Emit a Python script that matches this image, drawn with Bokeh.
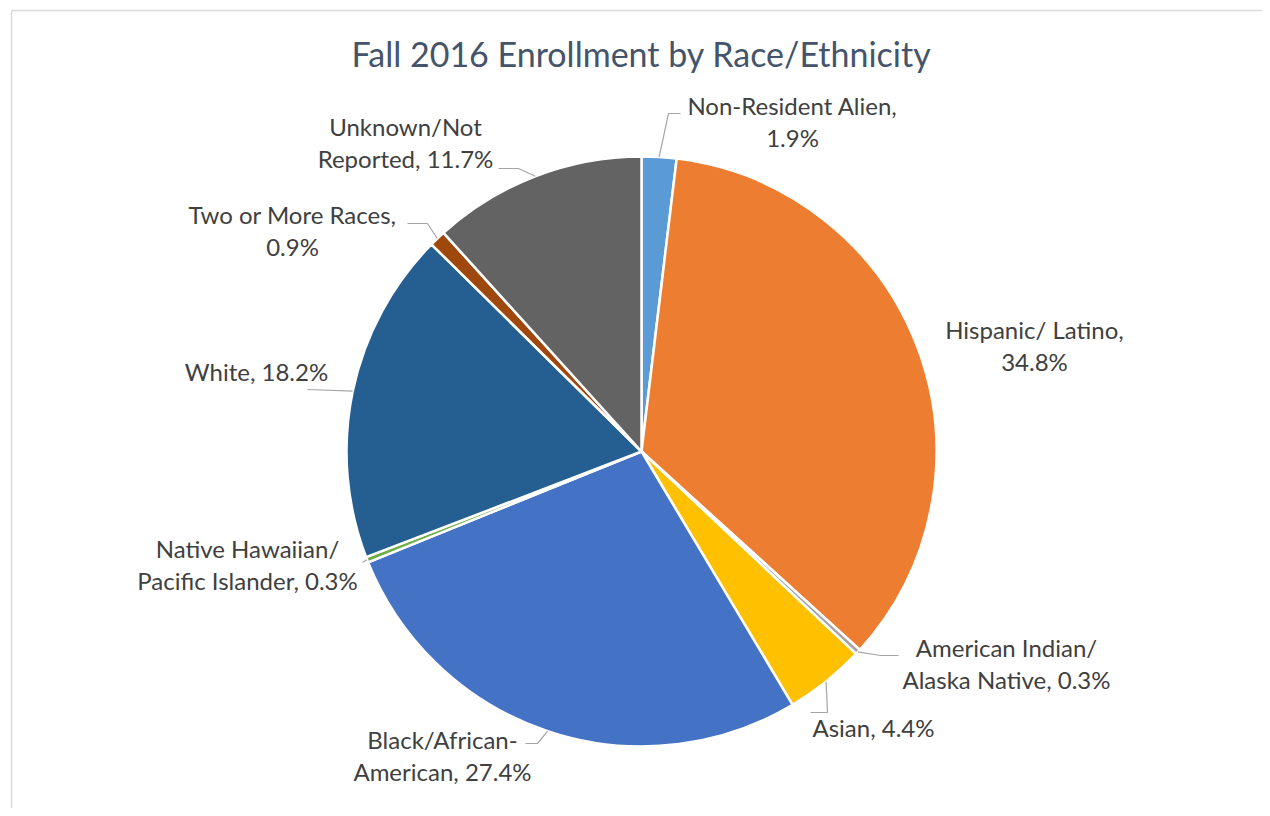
import math
from bokeh.plotting import figure
from bokeh.models import Range1d, ColumnDataSource
from bokeh.core.properties import value
from bokeh.embed import file_html
from bokeh.resources import INLINE

# ---------------- data ----------------
title_text = "Fall 2016 Enrollment by Race/Ethnicity"
categories = [
    "Non-Resident Alien",
    "Hispanic/ Latino",
    "American Indian/ Alaska Native",
    "Asian",
    "Black/African-American",
    "Native Hawaiian/ Pacific Islander",
    "White",
    "Two or More Races",
    "Unknown/Not Reported",
]
percents = [1.9, 34.8, 0.3, 4.4, 27.4, 0.3, 18.2, 0.9, 11.7]
colors = ["#5B9BD5", "#ED7D31", "#A5A5A5", "#FFC000", "#4472C4",
          "#70AD47", "#255E91", "#9E480E", "#636363"]

# ---------------- layout (screen pixels) ----------------
W, H = 1262, 808
CX, CY, R = 641, 451, 295
FONT = "Lato"
LABEL_SIZE = 24
LINE_GAP = 32
# where each label wraps (text preceding the break), None = single line
label_breaks = ["Alien,", "Latino,", "Indian/", None, "African-", "Hawaiian/", None, "Races,", "Not"]
# label block centres (screen px)
label_pos = [(792, 121), (1034, 345), (1006, 663), (873, 727), (442, 755),
             (247, 564), (256, 371), (292, 230), (405, 142)]
# leader line extra points after the slice-edge point (screen px); None = no leader
leader_pts = [
    [(668, 113), (680, 113)],
    None,
    [(880, 655), (898, 655)],
    [(827, 712), (810, 712)],
    [(537, 743), (525, 743)],
    [(362, 562)],
    [(307, 389)],
    [(427, 223), (407, 223)],
    [(518, 168), (498, 168)],
]

p = figure(width=W, height=H, x_range=Range1d(0, W), y_range=Range1d(-H, 0),
           output_backend="svg", toolbar_location=None, min_border=0)
p.axis.visible = False
p.grid.visible = False
p.outline_line_color = None
p.background_fill_color = "white"
p.border_fill_color = "white"

# chart-area border (top and left visible)
p.segment(x0=[11, 11], y0=[-10, -10], x1=[W + 5, 11], y1=[-10, -(H + 5)],
          line_color="#D9D9D9", line_width=1.5)

# wedges, clockwise from 12 o'clock
total = sum(percents)
starts, ends, mids = [], [], []
cum = 0.0
for v in percents:
    a0 = math.pi / 2 - 2 * math.pi * cum / total
    cum += v
    a1 = math.pi / 2 - 2 * math.pi * cum / total
    starts.append(a0)
    ends.append(a1)
    mids.append((a0 + a1) / 2)

src = ColumnDataSource(dict(start=starts, end=ends, color=colors, cat=categories, pct=percents))
p.wedge(x=CX, y=-CY, radius=R, start_angle="start", end_angle="end", direction="clock",
        fill_color="color", line_color="white", line_width=2.5, source=src)

# leader lines
for i, pts in enumerate(leader_pts):
    if not pts:
        continue
    ex = CX + R * math.cos(mids[i])
    ey = CY - R * math.sin(mids[i])
    xs = [ex] + [q[0] for q in pts]
    ys = [-ey] + [-q[1] for q in pts]
    p.line(xs, ys, line_color="#A6A6A6", line_width=1.2)

# labels
tx, ty, tt = [], [], []
for i, cat in enumerate(categories):
    full = f"{cat}, {percents[i]}%"
    b = label_breaks[i]
    if b:
        k = full.index(b) + len(b)
        lines = [full[:k], full[k:].lstrip()]
    else:
        lines = [full]
    n = len(lines)
    lx, ly = label_pos[i]
    for j, ln in enumerate(lines):
        tx.append(lx)
        ty.append(-(ly + (j - (n - 1) / 2) * LINE_GAP))
        tt.append(ln)
p.text(x=tx, y=ty, text=tt, text_align="center", text_baseline="middle",
       text_font=value(FONT), text_font_size=f"{LABEL_SIZE}px", text_color="#404040")

# title
p.text(x=[641], y=[-53], text=[title_text], text_align="center", text_baseline="middle",
       text_font=value(FONT), text_font_size="34px", text_color="#44546A")

open("out.html", "w").write(file_html(p, INLINE))
